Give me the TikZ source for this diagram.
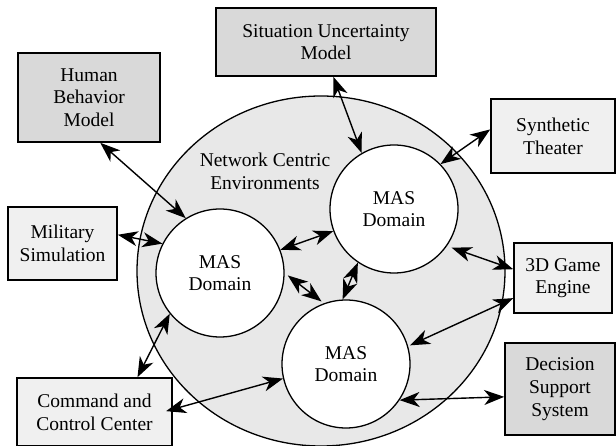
\documentclass[tikz,border=0pt]{standalone}
\usepackage{fontspec}
\setmainfont{Liberation Serif}
\usepackage{xcolor}
\usepackage{tikz}
\usetikzlibrary{arrows.meta}
\definecolor{boxdark}{HTML}{D9D9D9}
\definecolor{boxlight}{HTML}{F0F0F0}
\definecolor{netfill}{HTML}{E8E8E8}
\tikzset{
  darkbox/.style={draw=black, line width=1.6pt, fill=boxdark, align=center, inner sep=0pt},
  lightbox/.style={draw=black, line width=1.6pt, fill=boxlight, align=center, inner sep=0pt},
  masdomain/.style={circle, draw=black, line width=1.3pt, fill=white, minimum size=128pt, align=center, inner sep=0pt},
  link/.style={{Stealth[length=20pt,width=15pt,inset=6pt]}-{Stealth[length=20pt,width=15pt,inset=6pt]}, line width=1.4pt},
  lab/.style={align=center},
}

\begin{document}
\begin{tikzpicture}[x=1pt,y=-1pt,font=\fontsize{19.5}{22.7}\selectfont]
\useasboundingbox (0,0) rectangle (616,446);
\draw[fill=netfill, line width=1.3pt] (321,271) ellipse (184 and 175);
\node[lab] (nce) at (265,171) {Network Centric\\Environments};

\node[darkbox, minimum width=220pt, minimum height=68pt] (sum) at (326,42) {Situation Uncertainty\\Model};
\node[darkbox, minimum width=142pt, minimum height=89pt] (hbm) at (89,97.5) {Human\\Behavior\\Model};
\node[lightbox, minimum width=124pt, minimum height=74pt] (st) at (553,136) {Synthetic\\Theater};
\node[lightbox, minimum width=109pt, minimum height=73pt] (ms) at (62.5,243.5) {Military\\Simulation};
\node[lightbox, minimum width=98pt, minimum height=70pt] (ge) at (563,278) {3D Game\\Engine};
\node[darkbox, minimum width=110pt, minimum height=92pt] (dss) at (560,389) {Decision\\Support\\System};
\node[lightbox, minimum width=155pt, minimum height=68pt] (ccc) at (94.5,412) {Command and\\Control Center};

\node[masdomain] (mleft) at (220,273) {MAS\\Domain};
\node[masdomain] (mtop) at (394,209) {MAS\\Domain};
\node[masdomain] (mbot) at (346,364) {MAS\\Domain};

\draw[link] (hbm.284) -- (mleft.122.5);
\draw[link] (sum.282) -- (mtop.120);
\draw[link] (st.174.5) -- (mtop.44);
\draw[link] (ms.9) -- (mleft.153);
\draw[link] (mleft.21) -- (mtop.200);
\draw[link, shorten <=4pt, shorten >=3pt] (mleft.0) -- (mbot.110);
\draw[link] (mtop.236) -- (mbot.93);
\draw[link, shorten <=5pt] (mtop.325) -- (ge.170);
\draw[link, shorten >=2pt] (ge.202) -- (mbot.16.5);
\draw[link] (ccc.39.5) -- (mleft.219);
\draw[link, shorten <=-7pt] (ccc.2) -- (mbot.193);
\draw[link] (mbot.326) -- (dss.188);
\end{tikzpicture}
\end{document}
